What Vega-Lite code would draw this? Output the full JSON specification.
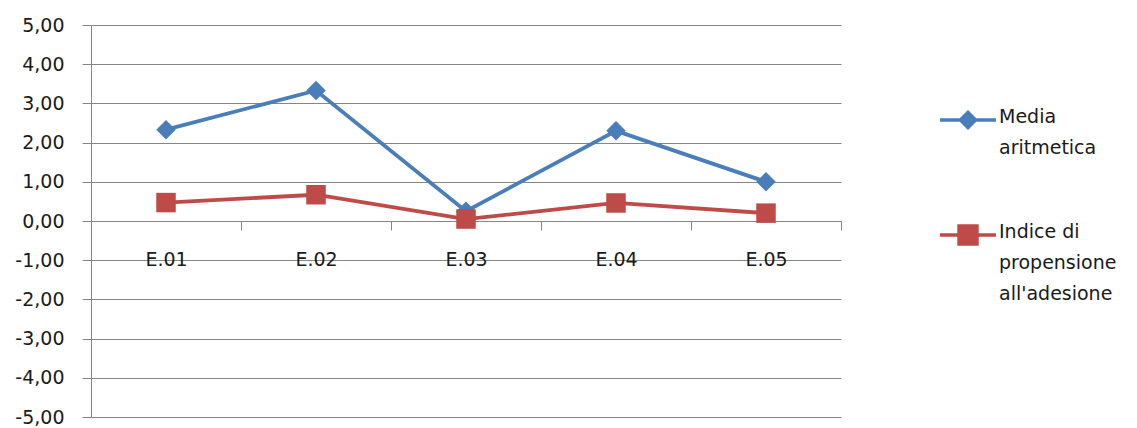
{
  "$schema": "https://vega.github.io/schema/vega-lite/v6.json",
  "autosize": "none",
  "width": 750,
  "height": 392,
  "padding": {"left": 91, "top": 25, "right": 296, "bottom": 11},
  "background": "white",
  "config": {
    "view": {"stroke": null},
    "font": "DejaVu Sans",
    "axis": {"labelFont": "DejaVu Sans", "labelFontSize": 19, "labelColor": "#1a1a1a", "domainColor": "#868686", "tickColor": "#868686", "gridColor": "#868686", "domainWidth": 1, "tickWidth": 1, "gridWidth": 1}
  },
  "data": {
    "values": [
      {"cat": "E.01", "series": "Media aritmetica", "value": 2.33},
      {"cat": "E.02", "series": "Media aritmetica", "value": 3.33},
      {"cat": "E.03", "series": "Media aritmetica", "value": 0.25},
      {"cat": "E.04", "series": "Media aritmetica", "value": 2.3},
      {"cat": "E.05", "series": "Media aritmetica", "value": 1.0},
      {"cat": "E.01", "series": "Indice di propensione all'adesione", "value": 0.47},
      {"cat": "E.02", "series": "Indice di propensione all'adesione", "value": 0.67},
      {"cat": "E.03", "series": "Indice di propensione all'adesione", "value": 0.05},
      {"cat": "E.04", "series": "Indice di propensione all'adesione", "value": 0.46},
      {"cat": "E.05", "series": "Indice di propensione all'adesione", "value": 0.2}
    ]
  },
  "encoding": {
    "x": {
      "field": "cat", "type": "nominal", "title": null,
      "scale": {"paddingInner": 0, "paddingOuter": 0},
      "axis": {"labelAngle": 0, "offset": -196, "tickBand": "extent", "tickSize": 9, "labelPadding": 20, "grid": false}
    },
    "y": {
      "field": "value", "type": "quantitative", "title": null,
      "scale": {"domain": [-5, 5], "nice": false, "zero": false},
      "axis": {"values": [-5, -4, -3, -2, -1, 0, 1, 2, 3, 4, 5], "tickSize": 9, "labelPadding": 18,
        "labelExpr": "(datum.value < 0 ? '-' : '') + replace(format(abs(datum.value), '.2f'), '.', ',')"}
    },
    "color": {
      "field": "series", "type": "nominal",
      "scale": {"domain": ["Media aritmetica", "Indice di propensione all'adesione"], "range": ["#4a7ebb", "#be4b48"]},
      "legend": {
        "title": null, "orient": "none", "legendX": 847, "legendY": 65,
        "labelFont": "DejaVu Sans", "labelFontSize": 19, "labelColor": "#1a1a1a", "labelLimit": 0,
        "labelBaseline": "top", "labelOffset": 1,
        "symbolType": "M-1,0L1,0M-0.27,0L0,-0.27L0.27,0L0,0.27Z",
        "symbolSize": 3136, "symbolStrokeWidth": 3.5, "rowPadding": 47,
        "labelExpr": "datum.label == 'Media aritmetica' ? ['Media', 'aritmetica'] : ['Indice di', 'propensione', \"all'adesione\"]",
        "encode": {
          "symbols": {"update": {
            "shape": {"signal": "datum.value == 'Media aritmetica' ? 'M-1,0L1,0M-0.27,0L0,-0.27L0.27,0L0,0.27Z' : 'M-1,0L1,0M-0.32,-0.32L0.32,-0.32L0.32,0.32L-0.32,0.32Z'"},
            "stroke": {"signal": "datum.value == 'Media aritmetica' ? '#4a7ebb' : '#be4b48'"},
            "fill": {"signal": "datum.value == 'Media aritmetica' ? '#4a7ebb' : '#be4b48'"},
            "strokeWidth": {"value": 3.5},
            "opacity": {"value": 1},
            "fillOpacity": {"value": 1}
          }},
          "labels": {"update": {"dy": {"value": -12}, "lineHeight": {"value": 31}}}
        }
      }
    }
  },
  "layer": [
    {"mark": {"type": "line", "strokeWidth": 3.8}},
    {
      "transform": [{"filter": "datum.series == 'Media aritmetica'"}],
      "mark": {"type": "point", "filled": true, "opacity": 1, "size": 380, "shape": "diamond"}
    },
    {
      "transform": [{"filter": "datum.series != 'Media aritmetica'"}],
      "mark": {"type": "point", "filled": true, "opacity": 1, "size": 380, "shape": "square"}
    }
  ]
}
